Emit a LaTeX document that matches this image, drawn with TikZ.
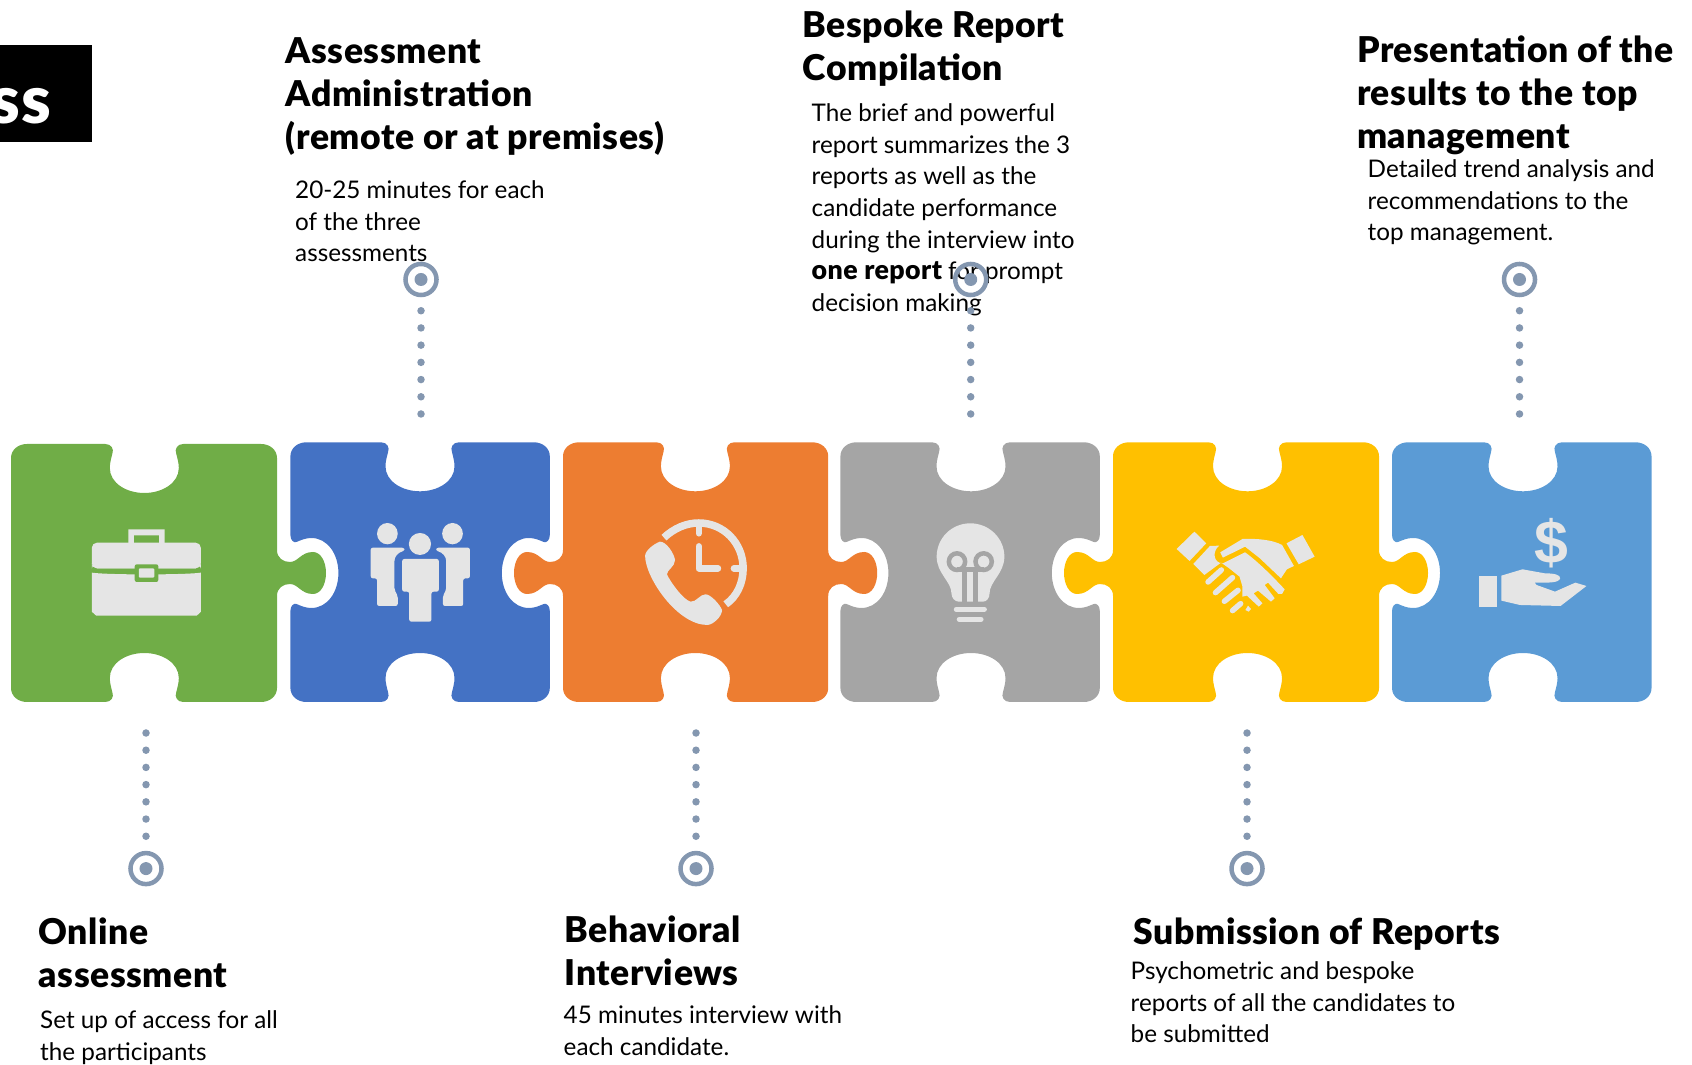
\documentclass[tikz,border=0pt]{standalone}
\usepackage{fontspec}
\setmainfont{Lato}[BoldFont={Lato Black},BoldFeatures={LetterSpace=1.5}]
\newfontfamily\iconfont{Liberation Sans}
\usetikzlibrary{positioning, arrows, shapes}
\definecolor{pgreen}{HTML}{70AD47}
\definecolor{pblue}{HTML}{4472C4}
\definecolor{porange}{HTML}{ED7D31}
\definecolor{pgray}{HTML}{A5A5A5}
\definecolor{pyellow}{HTML}{FFC000}
\definecolor{plight}{HTML}{5B9BD5}
\definecolor{picon}{HTML}{E5E5E5}
\definecolor{pdot}{HTML}{8497B0}
\tikzstyle{headtext} = [anchor=north west, inner sep=0pt, align=left, font=\fontsize{10.1}{12.2}\selectfont\bfseries]
\tikzstyle{bodytext} = [anchor=north west, inner sep=0pt, align=left, font=\fontsize{6.9}{9.0}\selectfont]
\tikzstyle{ringnode} = [draw=pdot, circle, line width=0.045cm, minimum size=0.31cm, inner sep=0pt]
\tikzstyle{ringdot} = [fill=pdot, circle, minimum size=0.13cm, inner sep=0pt]
\tikzstyle{dotline} = [pdot, line width=0.075cm, line cap=round, dash pattern=on 0pt off 0.172cm]
\tikzstyle{iconfill} = [fill=picon]
% edge of a piece: x of edge, outward sign, walking sign
\newcommand{\plainedge}[3]{}
\newcommand{\tabedge}[3]{ -- ({#1},{573-(#3)*23})
  .. controls ({#1},{573-(#3)*15}) and ({#1+(#2)*6},{573-(#3)*11}) .. ({#1+(#2)*13},{573-(#3)*11})
  .. controls ({#1+(#2)*21},{573-(#3)*11}) and ({#1+(#2)*24},{573-(#3)*21}) .. ({#1+(#2)*36},{573-(#3)*21})
  .. controls ({#1+(#2)*44},{573-(#3)*21}) and ({#1+(#2)*49},{573-(#3)*11}) .. ({#1+(#2)*49},{573})
  .. controls ({#1+(#2)*49},{573+(#3)*11}) and ({#1+(#2)*44},{573+(#3)*21}) .. ({#1+(#2)*36},{573+(#3)*21})
  .. controls ({#1+(#2)*24},{573+(#3)*21}) and ({#1+(#2)*21},{573+(#3)*11}) .. ({#1+(#2)*13},{573+(#3)*11})
  .. controls ({#1+(#2)*6},{573+(#3)*11}) and ({#1},{573+(#3)*15}) .. ({#1},{573+(#3)*23})}
\newcommand{\sockedge}[3]{ -- ({#1},{573-(#3)*38})
  .. controls ({#1},{573-(#3)*33}) and ({#1-(#2)*3},{573-(#3)*30}) .. ({#1-(#2)*6},{573-(#3)*31})
  .. controls ({#1-(#2)*11},{573-(#3)*33}) and ({#1-(#2)*15},{573-(#3)*35}) .. ({#1-(#2)*21},{573-(#3)*35})
  .. controls ({#1-(#2)*37},{573-(#3)*35}) and ({#1-(#2)*48},{573-(#3)*19}) .. ({#1-(#2)*48},{573})
  .. controls ({#1-(#2)*48},{573+(#3)*19}) and ({#1-(#2)*37},{573+(#3)*35}) .. ({#1-(#2)*21},{573+(#3)*35})
  .. controls ({#1-(#2)*15},{573+(#3)*35}) and ({#1-(#2)*11},{573+(#3)*33}) .. ({#1-(#2)*6},{573+(#3)*31})
  .. controls ({#1-(#2)*3},{573+(#3)*30}) and ({#1},{573+(#3)*33}) .. ({#1},{573+(#3)*38})}
% colour, left, right, notch x, top, left edge, right edge
\newcommand{\puzzle}[7]{
  \fill[#1] ({#2},{#5+14}) .. controls ({#2},{#5+6}) and ({#2+7},{#5}) .. ({#2+16},{#5})
    -- ({#4-39},{#5}) .. controls ({#4-33},{#5}) and ({#4-30},{#5+5}) .. ({#4-32},{#5+10})
    .. controls ({#4-33},{#5+14}) and ({#4-34.5},{#5+19}) .. ({#4-34.5},{#5+24})
    .. controls ({#4-34.5},{#5+39}) and ({#4-18},{#5+49}) .. ({#4},{#5+49})
    .. controls ({#4+18},{#5+49}) and ({#4+34.5},{#5+39}) .. ({#4+34.5},{#5+24})
    .. controls ({#4+34.5},{#5+19}) and ({#4+33},{#5+14}) .. ({#4+32},{#5+10})
    .. controls ({#4+30},{#5+5}) and ({#4+33},{#5}) .. ({#4+39},{#5})
    -- ({#3-16},{#5}) .. controls ({#3-7},{#5}) and ({#3},{#5+6}) .. ({#3},{#5+14})
    #7{#3}{1}{1}
    -- ({#3},{688}) .. controls ({#3},{696}) and ({#3-7},{702}) .. ({#3-16},{702})
    -- ({#4+39},{702}) .. controls ({#4+33},{702}) and ({#4+30},{697}) .. ({#4+32},{692})
    .. controls ({#4+33},{688}) and ({#4+34.5},{683}) .. ({#4+34.5},{678})
    .. controls ({#4+34.5},{663}) and ({#4+18},{653}) .. ({#4},{653})
    .. controls ({#4-18},{653}) and ({#4-34.5},{663}) .. ({#4-34.5},{678})
    .. controls ({#4-34.5},{683}) and ({#4-33},{688}) .. ({#4-32},{692})
    .. controls ({#4-30},{697}) and ({#4-33},{702}) .. ({#4-39},{702})
    -- ({#2+16},{702}) .. controls ({#2+7},{702}) and ({#2},{696}) .. ({#2},{688})
    #6{#2}{-1}{-1}
    -- cycle;
}
\begin{document}
\begin{tikzpicture}[x=0.01cm, y=-0.01cm]
  \useasboundingbox (0,0) rectangle (1692,1065);

  % title box, cut by the page
  \begin{scope}
    \clip (0,0) rectangle (1692,1065);
    \node[fill=black, minimum width=1.2cm, minimum height=0.975cm, inner sep=0pt, anchor=north east] (titlebox) at (92.5,44) {};
    \node[text=white, anchor=base east, inner sep=0pt, font=\fontsize{19}{19}\selectfont\bfseries] (titletext) at (52,124) {ss};
  \end{scope}

  % puzzle pieces
  \puzzle{pgreen}{11}{277}{144.3}{444}{\plainedge}{\tabedge}
  \puzzle{pblue}{290.4}{549.8}{420}{442.3}{\sockedge}{\sockedge}
  \puzzle{porange}{563}{828.2}{695.4}{442.3}{\tabedge}{\tabedge}
  \puzzle{pgray}{840.4}{1099.8}{971}{442.3}{\sockedge}{\sockedge}
  \puzzle{pyellow}{1113}{1379}{1247.5}{442.3}{\tabedge}{\tabedge}
  \puzzle{plight}{1392}{1651.5}{1523}{442.3}{\sockedge}{\plainedge}

  % briefcase
  \begin{scope}[shift={(0,430)}, xscale=0.37, yscale=0.3333]
    \fill[iconfill, even odd rule] (347,298) rectangle (445,345) (362,316) rectangle (430,345);
    \fill[iconfill, rounded corners=1.5pt] (248,338) rectangle (543,415);
    \fill[iconfill, rounded corners=1.5pt] (248,400) rectangle (543,415);
    \fill[iconfill] (248,428) .. controls (290,435) and (500,435) .. (543,428) -- (543,545) -- (532,557) -- (260,557) -- (248,545) -- cycle;
    \fill[pgreen, rounded corners=0.6pt] (364,403) rectangle (428,456);
    \fill[iconfill, rounded corners=0.3pt] (375,415) rectangle (417,443);
  \end{scope}

  % people
  \begin{scope}[shift={(0,430)}, xscale=0.37, yscale=0.3333]
    \fill[iconfill] (1135,342) ellipse [x radius=30, y radius=33];
    \fill[iconfill] (1047,311) ellipse [x radius=28, y radius=32];
    \fill[iconfill] (1223,311) ellipse [x radius=28, y radius=32];
    \fill[iconfill, rounded corners=0.6pt] (1087,387) -- (1186,387) -- (1186,485) -- (1166,485) -- (1166,575) -- (1106,575) -- (1106,485) -- (1087,485) -- cycle;
    \fill[iconfill, rounded corners=0.6pt] (1002,353) -- (1092,353) -- (1094,362) .. controls (1075,368) and (1066,380) .. (1066,400) -- (1066,480) -- (1075,497) -- (1075,528) -- (1019,528) -- (1019,445) -- (1002,445) -- cycle;
    \fill[iconfill, rounded corners=0.6pt] (1270,353) -- (1180,353) -- (1178,362) .. controls (1197,368) and (1206,380) .. (1206,400) -- (1206,480) -- (1197,497) -- (1197,528) -- (1252,528) -- (1252,445) -- (1270,445) -- cycle;
  \end{scope}

  % phone and clock
  \begin{scope}[shift={(550,430)}, xscale=0.37, yscale=0.3333]
    \draw[picon, line width=0.075cm] (308,323) .. controls (335,295) and (368,279) .. (402,279)
      .. controls (470,279) and (522,340) .. (522,415) .. controls (522,460) and (505,500) .. (475,523);
    \draw[picon, line width=0.065cm, line cap=round] (402,290) -- (402,310);
    \draw[picon, line width=0.065cm, line cap=round] (513,415) -- (497,415);
    \draw[picon, line width=0.065cm, line cap=round, line join=round] (402,349) -- (402,415) -- (454,415);
    \fill[iconfill] (297,335) .. controls (280,342) and (257,362) .. (257,378)
      .. controls (258,445) and (345,585) .. (425,585) .. controls (440,585) and (465,560) .. (465,540)
      .. controls (460,525) and (435,493) .. (420,493) .. controls (405,493) and (395,517) .. (380,515)
      .. controls (360,510) and (325,455) .. (316,433) .. controls (316,420) and (338,410) .. (338,390)
      .. controls (335,370) and (315,335) .. (297,335) -- cycle;
  \end{scope}

  % bulb
  \begin{scope}[shift={(550,430)}, xscale=0.37, yscale=0.3333]
    \fill[iconfill] (1136,280) .. controls (1085,280) and (1045,325) .. (1045,380)
      .. controls (1045,430) and (1085,455) .. (1085,490) .. controls (1085,505) and (1095,515) .. (1105,515)
      -- (1170,515) .. controls (1180,515) and (1188,505) .. (1188,490)
      .. controls (1188,455) and (1228,430) .. (1228,380) .. controls (1228,325) and (1187,280) .. (1136,280) -- cycle;
    \draw[pgray, line width=0.045cm, fill=picon] (1100,395) ellipse [x radius=22, y radius=25];
    \draw[pgray, line width=0.045cm, fill=picon] (1172,395) ellipse [x radius=22, y radius=25];
    \draw[pgray, line width=0.05cm] (1100,418) -- (1172,418);
    \draw[pgray, line width=0.05cm] (1120,418) -- (1120,515);
    \draw[pgray, line width=0.05cm] (1151,418) -- (1151,515);
    \draw[picon, line width=0.05cm, line cap=round] (1098,538) -- (1174,538);
    \draw[picon, line width=0.05cm, line cap=round] (1106,568) -- (1165,568);
  \end{scope}

  % handshake
  \begin{scope}[shift={(1110,430)}, xscale=0.37, yscale=0.3333]
    \fill[iconfill] (228,305) -- (260,340) -- (215,393) -- (180,357) -- cycle;
    \fill[iconfill] (520,315) -- (553,380) -- (510,403) -- (477,340) -- cycle;
    \fill[iconfill] (298,367) -- (358,327) .. controls (400,325) and (440,330) .. (465,345) -- (497,408) -- (478,418) -- (462,445) -- (405,385) -- (365,350) -- (305,383) -- cycle;
    \fill[iconfill] (270,348) -- (295,347) .. controls (275,365) and (280,400) .. (305,400) -- (365,367) .. controls (400,395) and (440,440) .. (472,478) -- (465,492) -- (455,492) -- (427,458) -- (418,465) -- (445,505) -- (435,515) -- (400,482) -- (388,490) -- (412,520) -- (402,530) -- (370,497) -- (358,500) -- (358,470) -- (350,440) -- (322,415) -- (300,398) -- (255,435) -- (225,402) -- cycle;
    \draw[picon, line width=0.055cm, line cap=round] (265,456) -- (301,420);
    \draw[picon, line width=0.055cm, line cap=round] (285,488) -- (331,443);
    \draw[picon, line width=0.055cm, line cap=round] (309,514) -- (346,481);
    \draw[picon, line width=0.055cm, line cap=round] (331,542) -- (353,521);
    \fill[iconfill] (373,527) -- (381,537) -- (375,545) -- (366,540) -- cycle;
  \end{scope}

  % hand and dollar
  \node[text=picon, inner sep=0pt, font=\fontsize{17.3}{17.3}\iconfont\bfseries] (dollar) at (1551.5,543) {\$};
  \begin{scope}[shift={(1111,430)}, xscale=0.37, yscale=0.3333]
    \fill[iconfill] (995,437) rectangle (1043,530);
    \fill[iconfill] (1055,437) -- (1112,418) -- (1172,430) .. controls (1200,430) and (1214,435) .. (1214,445)
      .. controls (1210,460) and (1180,458) .. (1145,458) -- (1150,465) -- (1200,485) -- (1255,458) -- (1285,468) -- (1215,528) -- (1105,525) -- (1055,512) -- cycle;
  \end{scope}

  % texts
  \node[headtext] (heada) at (38,917) {Online\\assessment};
  \node[bodytext] (bodya) at (39.5,1010) {Set up of access for all\\the participants};
  \node[headtext] (headb) at (285,37) {Assessment\\Administration\\(remote or at premises)};
  \node[bodytext] (bodyb) at (294.5,180) {20-25 minutes for each\\of the three\\assessments};
  \node[headtext] (headc) at (564,915) {Behavioral\\Interviews};
  \node[bodytext] (bodyc) at (563,1005) {45 minutes interview with\\each candidate.};
  \node[headtext] (headd) at (802,10) {Bespoke Report\\Compilation};
  \node[bodytext] (bodyd) at (811,103) {The brief and powerful\\report summarizes the 3\\reports as well as the\\candidate performance\\during the interview into\\{\fontsize{7.6}{9.0}\selectfont\bfseries one report} for prompt\\decision making};
  \node[headtext] (heade) at (1133,917) {Submission of Reports};
  \node[bodytext] (bodye) at (1130,961) {Psychometric and bespoke\\reports of all the candidates to\\be submitted};
  \node[headtext] (headf) at (1356.5,35) {Presentation of the\\results to the top\\management};
  \node[bodytext] (bodyf) at (1367,159) {Detailed trend analysis and\\recommendations to the\\top management.};

  % rings and dotted links
  \node[ringnode] (ringa) at (146,868.6) {};
  \node[ringdot] (dota) at (ringa) {};
  \coordinate (linka) at (146,733);
  \draw[dotline] (linka) -- (ringa);
  \node[ringnode] (ringb) at (421,279.5) {};
  \node[ringdot] (dotb) at (ringb) {};
  \coordinate (linkb) at (421,414);
  \draw[dotline] (linkb) -- (ringb);
  \node[ringnode] (ringc) at (696,868.6) {};
  \node[ringdot] (dotc) at (ringc) {};
  \coordinate (linkc) at (696,733);
  \draw[dotline] (linkc) -- (ringc);
  \node[ringnode] (ringd) at (970.7,279.5) {};
  \node[ringdot] (dotd) at (ringd) {};
  \coordinate (linkd) at (970.7,414);
  \draw[dotline] (linkd) -- (ringd);
  \node[ringnode] (ringe) at (1247,868.6) {};
  \node[ringdot] (dote) at (ringe) {};
  \coordinate (linke) at (1247,733);
  \draw[dotline] (linke) -- (ringe);
  \node[ringnode] (ringf) at (1519.5,279.5) {};
  \node[ringdot] (dotf) at (ringf) {};
  \coordinate (linkf) at (1519.5,414);
  \draw[dotline] (linkf) -- (ringf);
\end{tikzpicture}
\end{document}
